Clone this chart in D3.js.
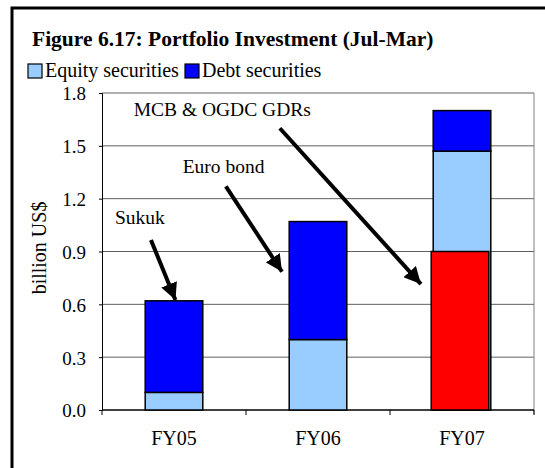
<!DOCTYPE html>
<meta charset="utf-8">
<title>Portfolio Investment</title>
<style>
  body { margin: 0; background: #fff; }
  svg text { font-family: "Liberation Serif", "Times New Roman", "DejaVu Serif", serif; fill: #000; }
  .grid line { stroke: #606060; stroke-width: 1px; }
  .bar { stroke: #000; stroke-width: 1.5px; }
</style>
<body>
<script src="https://cdn.jsdelivr.net/npm/d3@7/dist/d3.min.js"></script>
<script>

var width = 545, height = 468;

var categories = ["FY05", "FY06", "FY07"];
var equity = [0.10, 0.40, 1.47];
var debt = [0.52, 0.67, 0.23];
var gdrs = [null, null, 0.90];
var yTicks = [0.0, 0.3, 0.6, 0.9, 1.2, 1.5, 1.8];

// annotations: category index + offsets (in bands from the band centre), values for text, arrow start and tip
var notes = [
  {label: "Sukuk", cat: 0, tx: -0.41, ty: 1.057, sx: -0.16, sy: 0.965, ex: 0.01, ey: 0.625},
  {label: "Euro bond", cat: 1, tx: -0.94, ty: 1.347, sx: -0.64, sy: 1.27, ex: -0.25, ey: 0.785},
  {label: "MCB & OGDC GDRs", cat: 2, tx: -2.28, ty: 1.67, sx: -1.265, sy: 1.60, ex: -0.285, ey: 0.715}
];

var margin = {left: 102, right: 11, top: 93, bottom: 58};

var svg = d3.select("body").append("svg")
  .attr("width", width)
  .attr("height", height);

// outer frame
svg.append("rect")
  .attr("x", 12).attr("y", 8)
  .attr("width", 540).attr("height", 470)
  .attr("fill", "none").attr("stroke", "#000").attr("stroke-width", 3);

svg.append("text")
  .attr("x", 32).attr("y", 46)
  .attr("font-size", 21.5).attr("font-weight", "bold")
  .text("Figure 6.17: Portfolio Investment (Jul-Mar)");

// legend
var legend = [{name: "Equity securities", color: "#99ccff"}, {name: "Debt securities", color: "#0000ff"}];
var lx = [28, 185];
legend.forEach(function(d, i) {
  svg.append("rect").attr("x", lx[i]).attr("y", 64).attr("width", 14).attr("height", 14)
    .attr("fill", d.color).attr("stroke", "#000").attr("stroke-width", 1.2);
  svg.append("text").attr("x", lx[i] + 17).attr("y", 77).attr("font-size", 20).text(d.name);
});

var x = d3.scaleBand()
  .domain(categories)
  .range([margin.left, width - margin.right]);

var xPos = d3.scaleLinear()
  .domain([0, categories.length])
  .range([margin.left, width - margin.right]);

var y = d3.scaleLinear()
  .domain([0, 1.8])
  .range([height - margin.bottom, margin.top]);

// gridlines
svg.append("g").attr("class", "grid")
  .selectAll("line").data(yTicks.slice(1))
  .enter().append("line")
  .attr("x1", margin.left).attr("x2", width - margin.right)
  .attr("y1", function(d) { return y(d); })
  .attr("y2", function(d) { return y(d); });

// right border of plot area
svg.append("line")
  .attr("x1", width - margin.right).attr("x2", width - margin.right)
  .attr("y1", y(1.8)).attr("y2", y(0) + 4)
  .attr("stroke", "#808080").attr("stroke-width", 1);

var yAxis = svg.append("g")
  .attr("transform", "translate(" + margin.left + ",0)")
  .call(d3.axisLeft(y).tickValues(yTicks).tickFormat(d3.format(".1f")).tickSize(3).tickPadding(13));
yAxis.attr("font-family", null);
yAxis.select(".domain").attr("stroke", "#000");
yAxis.selectAll("text").attr("font-size", 19).attr("dy", "0.36em");

var xAxis = svg.append("g")
  .attr("transform", "translate(0," + y(0) + ")");
xAxis.append("line")
  .attr("x1", margin.left).attr("x2", width - margin.right)
  .attr("stroke", "#000").attr("stroke-width", 1.5);
xAxis.selectAll(".tk").data(d3.range(categories.length + 1))
  .enter().append("line")
  .attr("x1", function(d) { return xPos(d); })
  .attr("x2", function(d) { return xPos(d); })
  .attr("y1", 0).attr("y2", 5)
  .attr("stroke", "#000");
xAxis.selectAll(".lbl").data(categories)
  .enter().append("text")
  .attr("x", function(d) { return x(d) + x.bandwidth() / 2; })
  .attr("y", 35)
  .attr("text-anchor", "middle")
  .attr("font-size", 20)
  .text(function(d) { return d; });

svg.append("text")
  .attr("transform", "translate(46," + y(0.92) + ") rotate(-90)")
  .attr("text-anchor", "middle")
  .attr("font-size", 20)
  .text("billion US$");

var barW = x.bandwidth() * 0.4;
function barX(c) { return x(c) + (x.bandwidth() - barW) / 2; }

// stacked bars
svg.selectAll(".eq").data(categories)
  .enter().append("rect").attr("class", "bar")
  .attr("x", barX)
  .attr("width", barW)
  .attr("y", function(c, i) { return y(equity[i]); })
  .attr("height", function(c, i) { return y(0) - y(equity[i]); })
  .attr("fill", "#99ccff");

svg.selectAll(".db").data(categories)
  .enter().append("rect").attr("class", "bar")
  .attr("x", barX)
  .attr("width", barW)
  .attr("y", function(c, i) { return y(equity[i] + debt[i]); })
  .attr("height", function(c, i) { return y(equity[i]) - y(equity[i] + debt[i]); })
  .attr("fill", "#0000ff");

// GDR overlay
svg.selectAll(".gdr").data(categories.filter(function(c, i) { return gdrs[i] != null; }))
  .enter().append("rect").attr("class", "bar")
  .attr("x", function(c) { return barX(c) - 2; })
  .attr("width", barW)
  .attr("y", function(c) { return y(gdrs[categories.indexOf(c)]); })
  .attr("height", function(c) { return y(0) - y(gdrs[categories.indexOf(c)]); })
  .attr("fill", "#ff0000");

// arrows
svg.append("defs").append("marker")
  .attr("id", "head")
  .attr("viewBox", "0 0 10 10")
  .attr("refX", 10).attr("refY", 5)
  .attr("markerWidth", 4.2).attr("markerHeight", 4.2)
  .attr("markerUnits", "strokeWidth")
  .attr("orient", "auto")
  .append("path").attr("d", "M0,0 L10,5 L0,10 Z").attr("fill", "#000");

notes.forEach(function(n) {
  var c = n.cat + 0.5;
  svg.append("text")
    .attr("x", xPos(c + n.tx)).attr("y", y(n.ty))
    .attr("font-size", 19.5)
    .text(n.label);
  svg.append("line")
    .attr("x1", xPos(c + n.sx)).attr("y1", y(n.sy))
    .attr("x2", xPos(c + n.ex)).attr("y2", y(n.ey))
    .attr("stroke", "#000").attr("stroke-width", 4)
    .attr("marker-end", "url(#head)");
});

</script>
